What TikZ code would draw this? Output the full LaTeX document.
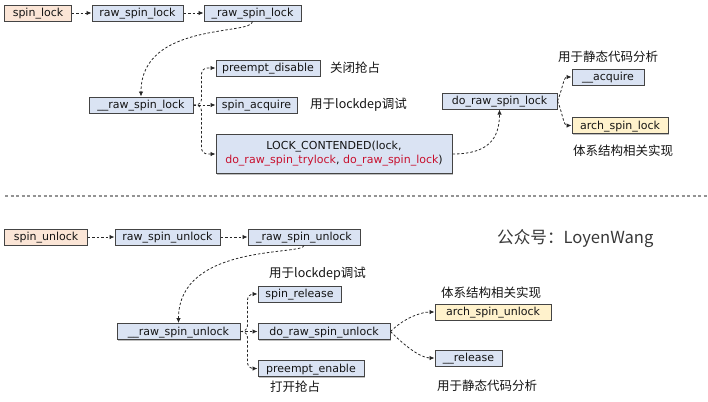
\documentclass[tikz,border=0pt]{standalone}
\usepackage{fontspec}
\setmainfont{DejaVu Sans}
\newfontfamily\cjk{Noto Sans CJK SC}
\usetikzlibrary{arrows.meta,shadows}
\definecolor{boxblue}{RGB}{218,227,243}
\definecolor{boxpeach}{RGB}{251,229,214}
\definecolor{boxyellow}{RGB}{255,242,204}
\definecolor{boxline}{RGB}{68,68,68}
\definecolor{codered}{RGB}{200,16,46}
\definecolor{txt}{RGB}{20,20,20}
\tikzset{
  fbox/.style={draw=boxline, line width=1bp, fill=boxblue, minimum height=16bp, inner sep=0pt,
    text=txt, font=\fontsize{11bp}{13bp}\selectfont,
    drop shadow={shadow xshift=1.2bp, shadow yshift=-1.2bp, opacity=0.25, fill=black}},
  onel/.style={fbox, text height=9.6bp, text depth=2.4bp},
  peach/.style={fill=boxpeach},
  yel/.style={fill=boxyellow},
  conn/.style={draw=black!85, line width=0.8bp, dash pattern=on 2.5bp off 2bp,
    -{Latex[length=5bp,width=4.5bp]}},
  note/.style={font=\cjk\fontsize{12.5bp}{15bp}\selectfont, text=txt, inner sep=0pt},
}
\begin{document}
\begin{tikzpicture}[x=1bp,y=-1bp]
\useasboundingbox (0,0) rectangle (708,401);
% ---------- top: spin_lock ----------
\node[onel,peach,minimum width=66bp] (sl) at (38,13) {spin\_lock};
\node[onel,minimum width=91bp] (rsl) at (137.5,13) {raw\_spin\_lock};
\node[onel,minimum width=97bp] (rsl1) at (252.5,13) {\_raw\_spin\_lock};
\node[onel,minimum width=104bp] (rsl2) at (141,105) {\_\_raw\_spin\_lock};
\node[onel,minimum width=104bp] (pd) at (268,68) {preempt\_disable};
\node[onel,minimum width=81bp] (sa) at (256.5,105) {spin\_acquire};
\node[fbox,minimum width=236bp,minimum height=39bp,align=center] (lc) at (334,154)
  {LOCK\_CONTENDED(lock,\\[1bp]\textcolor{codered}{do\_raw\_spin\_trylock}, \textcolor{codered}{do\_raw\_spin\_lock})};
\node[onel,minimum width=115bp] (drsl) at (499.5,101) {do\_raw\_spin\_lock};
\node[onel,minimum width=72bp] (acq) at (608,77) {\_\_acquire};
\node[onel,yel,minimum width=96bp] (asl) at (620,125.5) {arch\_spin\_lock};
\node[note,anchor=west] (n1) at (330,68) {关闭抢占};
\node[note,anchor=west] (n2) at (310,105) {用于lockdep调试};
\node[note] (n3) at (608,57) {用于静态代码分析};
\node[note,anchor=west] (n4) at (573,151) {体系结构相关实现};
\draw[conn] (sl) -- (rsl);
\draw[conn] (rsl) -- (rsl1);
\draw[conn] (rsl1.south) .. controls +(0,14) and +(0,-75) .. (rsl2.north);
\draw[conn,rounded corners=6bp] (rsl2.east) -- ++(8,0) |- (pd.west);
\draw[conn,rounded corners=6bp] (rsl2.east) -- ++(8,0) |- (lc.west);
\draw[conn] (rsl2.east) -- (sa.west);
\draw[conn] (lc.east) .. controls +(35,0) and +(0,30) .. (drsl.south);
\draw[conn] (drsl.east) .. controls +(5,-12) and +(-8,0) .. (acq.west);
\draw[conn] (drsl.east) .. controls +(5,12) and +(-8,0) .. (asl.west);
% ---------- separator ----------
\coordinate (s1) at (5,196);
\coordinate (s2) at (708,196);
\draw[gray!85, line width=1.5bp, dash pattern=on 3bp off 2.5bp] (s1) -- (s2);
% ---------- bottom: spin_unlock ----------
\node[onel,peach,minimum width=82bp] (su) at (46,237) {spin\_unlock};
\node[onel,minimum width=105bp] (rsu) at (167.5,237) {raw\_spin\_unlock};
\node[onel,minimum width=112bp] (rsu1) at (304,237) {\_raw\_spin\_unlock};
\node[font=\cjk\fontsize{16.6bp}{19bp}\selectfont,text=black!78,anchor=west,inner sep=0pt] (wm) at (497,239) {公众号：LoyenWang};
\node[onel,minimum width=123bp] (rsu2) at (178.5,331.5) {\_\_raw\_spin\_unlock};
\node[onel,minimum width=83bp] (sr) at (299.5,294) {spin\_release};
\node[onel,minimum width=132bp] (drsu) at (324,331.5) {do\_raw\_spin\_unlock};
\node[onel,minimum width=106bp] (pe) at (311,368.5) {preempt\_enable};
\node[onel,yel,minimum width=116bp] (asu) at (493,312) {arch\_spin\_unlock};
\node[onel,minimum width=67bp] (rel) at (468.5,358) {\_\_release};
\node[note,anchor=west] (m1) at (269,274) {用于lockdep调试};
\node[note,anchor=west] (m2) at (270,387) {打开抢占};
\node[note,anchor=west] (m3) at (441,293) {体系结构相关实现};
\node[note,anchor=west] (m4) at (437,386) {用于静态代码分析};
\draw[conn] (su) -- (rsu);
\draw[conn] (rsu) -- (rsu1);
\draw[conn] (rsu1.south) .. controls +(0,10) and +(0,-80) .. (rsu2.north);
\draw[conn,rounded corners=6bp] (rsu2.east) -- ++(7,0) |- (sr.west);
\draw[conn,rounded corners=6bp] (rsu2.east) -- ++(7,0) |- (pe.west);
\draw[conn] (rsu2.east) -- (drsu.west);
\draw[conn] (drsu.east) .. controls +(12,-12) and +(-15,0) .. (asu.west);
\draw[conn] (drsu.east) .. controls +(12,12) and +(-15,0) .. (rel.west);
\end{tikzpicture}
\end{document}
